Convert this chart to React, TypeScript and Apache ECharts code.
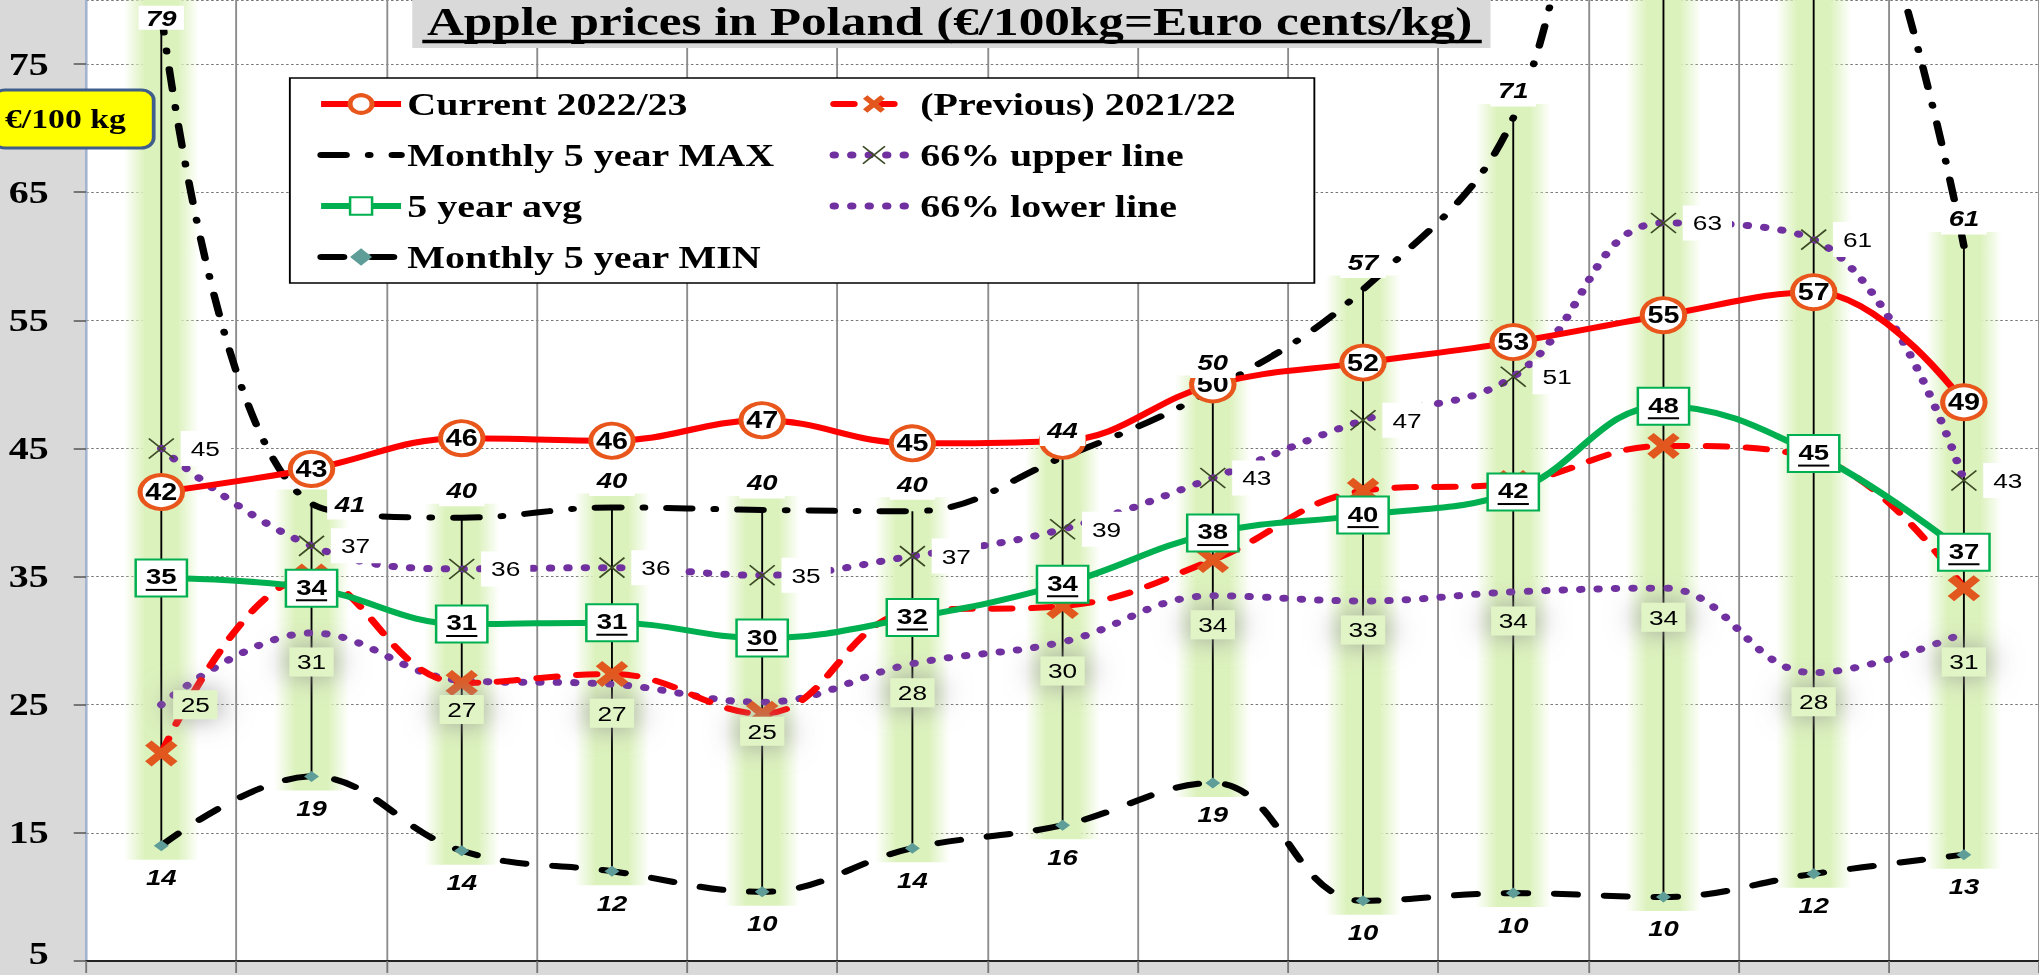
import React, { useEffect, useRef } from 'react';
import * as echarts from 'echarts';

// ---------- data ----------
const months = ['Jul 22', 'Aug 22', 'Sep 22', 'Oct 22', 'Nov 22', 'Dec 22', 'Jan 23', 'Feb 23', 'Mar 23', 'Apr 23', 'May 23', 'Jun 23', 'Jul 23'];
const current = [41.6, 43.4, 45.8, 45.6, 47.2, 45.4, 45.6, 50.0, 51.7, 53.3, 55.4, 57.2, 48.6];
const previous = [21.2, 35.0, 26.7, 27.4, 24.3, 32.3, 32.7, 36.3, 41.7, 42.3, 45.2, 44.3, 34.1];
const fiveYearMax = [79, 40.7, 39.6, 40.4, 40.2, 40.1, 44.3, 49.6, 57.4, 70.8, 110, 100, 60.8];
const upper66 = [45.0, 37.4, 35.6, 35.7, 35.1, 36.6, 38.7, 42.7, 47.2, 50.6, 62.6, 61.3, 42.5];
const avg5 = [34.9, 34.1, 31.3, 31.4, 30.2, 31.8, 34.4, 38.4, 39.8, 41.6, 48.3, 44.6, 36.9];
const lower66 = [25.0, 30.6, 26.9, 26.6, 25.2, 28.2, 29.9, 33.5, 33.1, 33.8, 34.1, 27.5, 30.6];
const fiveYearMin = [14.0, 19.4, 13.6, 12.0, 10.4, 13.8, 15.6, 18.9, 9.7, 10.3, 10.0, 11.8, 13.3];
const yMin = 5;
const yMax = 80;
const yStep = 10;

const TITLE = 'Apple prices in Poland (€/100kg=Euro cents/kg)';
const UNIT = '€/100 kg';
const NAMES = {
  cur: 'Current 2022/23',
  prev: '(Previous) 2021/22',
  max: 'Monthly 5 year MAX',
  up: '66% upper line',
  avg: '5 year avg',
  low: '66% lower line',
  min: 'Monthly 5 year MIN',
};

// ---------- layout ----------
const W = 1632;
const H = 975;
const SX = 2039 / W;
const SANS = '"Liberation Sans", Arial, sans-serif';
const SERIF = '"Liberation Serif", "Times New Roman", serif';
const XPATH = 'path://M0,4L4,0L10,6L16,0L20,4L14,10L20,16L16,20L10,14L4,20L0,16L6,10Z';
const THIN_X = 'path://M0,0L20,20M20,0L0,20';
const DOTS = [0.5, 13.5];

const rnd = (p: any) => String(Math.round(Array.isArray(p.value) ? p.value[1] : p.value));

const labelOnly = (name: string, data: any[], label: any) => ({
  name,
  type: 'line',
  data,
  z: 8,
  silent: true,
  symbol: 'circle',
  symbolSize: 1,
  itemStyle: { color: 'rgba(0,0,0,0)', borderWidth: 0 },
  lineStyle: { width: 0, opacity: 0 },
  emphasis: { disabled: true },
  label: { show: true, ...label },
});

function buildOption(): any {
  const legendText = { fontFamily: SERIF, fontWeight: 'bold', fontSize: 32, color: '#000', lineHeight: 32 };
  const legendBase = {
    orient: 'vertical',
    top: 88,
    padding: 0,
    itemGap: 19,
    itemWidth: 64,
    itemHeight: 22,
    selectedMode: false,
    z: 10,
    textStyle: legendText,
    lineStyle: { width: 'inherit' },
    itemStyle: { borderWidth: 'inherit' },
  };
  return {
    animation: false,
    backgroundColor: '#d9d9d9',
    grid: { left: 69, right: 0, top: 0, bottom: 14, show: true, backgroundColor: '#ffffff', borderWidth: 0 },
    xAxis: {
      type: 'category',
      data: months,
      boundaryGap: true,
      axisLine: { show: true, lineStyle: { color: '#222', width: 2 } },
      axisTick: { show: true, length: 12, lineStyle: { color: '#777', width: 1.5 } },
      axisLabel: { show: false },
      splitLine: { show: true, lineStyle: { color: '#8c8c8c', width: 1.5 } },
    },
    yAxis: {
      type: 'value',
      min: yMin,
      max: yMax,
      interval: yStep,
      axisLine: { show: true, lineStyle: { color: '#a3b4d0', width: 2 } },
      axisTick: { show: true, length: 10, lineStyle: { color: '#555', width: 1.5 } },
      axisLabel: {
        showMaxLabel: false,
        margin: 30,
        fontFamily: SERIF,
        fontWeight: 'bold',
        fontSize: 32,
        color: '#000',
        formatter: (v: number) => (v === yMin ? `{b|${v}}` : String(v)),
        rich: { b: { fontFamily: SERIF, fontWeight: 'bold', fontSize: 32, color: '#000', padding: [0, 0, 16, 0] } },
      },
      splitLine: { show: true, lineStyle: { color: '#777', width: 1, type: [2, 2] } },
    },
    legend: [
      {
        ...legendBase,
        left: 254,
        data: [
          NAMES.cur,
          { name: NAMES.max, itemStyle: { opacity: 0 } },
          NAMES.avg,
          NAMES.min,
        ],
      },
      {
        ...legendBase,
        left: 664,
        data: [NAMES.prev, NAMES.up, { name: NAMES.low, itemStyle: { opacity: 0 } }],
      },
    ],
    graphic: [
      { type: 'rect', z: 5, shape: { x: 232, y: 78, width: 820, height: 205 }, style: { fill: '#fff', stroke: '#000', lineWidth: 1.5 } },
      { type: 'rect', z: 5, shape: { x: 330, y: -4, width: 863, height: 52 }, style: { fill: '#d9d9d9' } },
      {
        type: 'text', z: 6, x: 760, y: 21.5,
        style: { text: TITLE, fontFamily: SERIF, fontWeight: 'bold', fontSize: 41, fill: '#000', align: 'center', verticalAlign: 'middle' },
      },
      { type: 'line', z: 6, shape: { x1: 338, y1: 41.5, x2: 1186, y2: 41.5 }, style: { stroke: '#000', lineWidth: 3.5 } },
      { type: 'rect', z: 6, shape: { x: -6, y: 90, width: 129, height: 58, r: 10 }, style: { fill: '#ffff00', stroke: '#3f5e8c', lineWidth: 3 } },
      {
        type: 'text', z: 7, x: 4, y: 119,
        style: { text: UNIT, fontFamily: SERIF, fontWeight: 'bold', fontSize: 27, fill: '#000', verticalAlign: 'middle' },
      },
    ],
    series: [
      {
        name: 'high-low',
        type: 'custom',
        z: 1,
        silent: true,
        clip: true,
        data: fiveYearMax.map((v, i) => [i, v, fiveYearMin[i]]),
        encode: { x: 0, y: [1, 2] },
        renderItem: (params: any, api: any) => {
          const i = api.value(0);
          const hi = Math.min(api.value(1), yMax);
          const lo = api.value(2);
          const top = api.coord([i, hi]);
          const bot = api.coord([i, lo]);
          const w = 60;
          return {
            type: 'group',
            children: [
              {
                type: 'rect',
                shape: { x: top[0] - w / 2, y: top[1] - 14, width: w, height: bot[1] - top[1] + 28 },
                style: {
                  fill: new echarts.graphic.LinearGradient(0, 0, 1, 0, [
                    { offset: 0, color: 'rgba(220,242,189,0)' },
                    { offset: 0.28, color: 'rgba(220,242,189,1)' },
                    { offset: 0.72, color: 'rgba(220,242,189,1)' },
                    { offset: 1, color: 'rgba(220,242,189,0)' },
                  ]),
                },
              },
              {
                type: 'line',
                shape: { x1: top[0], y1: top[1], x2: bot[0], y2: bot[1] },
                style: { stroke: '#000', lineWidth: 1.5 },
              },
            ],
          };
        },
      },
      {
        name: NAMES.low,
        type: 'line',
        data: lower66,
        smooth: 0.4,
        z: 2,
        symbol: 'none',
        lineStyle: { color: '#7030a0', width: 7, type: DOTS, cap: 'round' },
        itemStyle: { color: '#7030a0' },
      },
      {
        name: NAMES.max,
        type: 'line',
        data: fiveYearMax,
        smooth: 0.4,
        z: 2,
        symbol: 'none',
        lineStyle: { color: '#000', width: 6, type: [20, 18, 1, 18], cap: 'round' },
        itemStyle: { color: '#000' },
      },
      {
        name: NAMES.min,
        type: 'line',
        data: fiveYearMin,
        smooth: 0.4,
        z: 2,
        symbol: 'diamond',
        symbolSize: [12, 11],
        lineStyle: { color: '#000', width: 6, type: [18, 22], cap: 'round' },
        itemStyle: { color: '#5f9e98' },
      },
      {
        name: NAMES.up,
        type: 'line',
        data: upper66,
        smooth: 0.4,
        z: 3,
        symbol: THIN_X,
        symbolSize: 20,
        lineStyle: { color: '#7030a0', width: 7, type: DOTS, cap: 'round' },
        itemStyle: { color: 'rgba(0,0,0,0)', borderColor: '#3b4a24', borderWidth: 1.5 },
      },
      {
        name: NAMES.prev,
        type: 'line',
        data: previous,
        smooth: 0.4,
        z: 4,
        symbol: XPATH,
        symbolSize: 26,
        lineStyle: { color: '#ff0000', width: 6, type: [16, 16], cap: 'round' },
        itemStyle: { color: '#e2571e' },
      },
      {
        name: NAMES.avg,
        type: 'line',
        data: avg5,
        smooth: 0.4,
        z: 5,
        symbol: 'rect',
        symbolSize: 16,
        lineStyle: { color: '#00b050', width: 6 },
        itemStyle: { color: '#fff', borderColor: '#00b050', borderWidth: 2 },
        label: {
          show: true,
          position: 'inside',
          formatter: (p: any) => `{v|${rnd(p)}}\n{u| }`,
          backgroundColor: '#fff',
          borderColor: '#00b050',
          borderWidth: 2,
          padding: [4, 7, 4, 7],
          rich: {
            v: { fontFamily: SANS, fontWeight: 'bold', fontSize: 22, lineHeight: 24, color: '#000', align: 'center' },
            u: { width: 25, height: 2, lineHeight: 3, fontSize: 2, backgroundColor: '#000', align: 'center' },
          },
        },
      },
      {
        name: NAMES.cur,
        type: 'line',
        data: current.map((v, i) => (i === 6 ? { value: v, label: { show: false } } : v)),
        smooth: 0.4,
        z: 6,
        symbol: 'circle',
        symbolSize: 34,
        lineStyle: { color: '#ff0000', width: 6 },
        itemStyle: { color: '#fff', borderColor: '#e8561c', borderWidth: 4 },
        label: { show: true, position: 'inside', formatter: rnd, fontFamily: SANS, fontWeight: 'bold', fontSize: 23, color: '#000' },
      },
      labelOnly(
        'max-labels',
        fiveYearMax.map((v, i) => {
          if (v > yMax) return { value: v, label: { show: false } };
          if (i === 0) return { value: v, label: { position: 'inside', offset: [0, 5], padding: [1, 6] } };
          if (i === 1) return { value: v, label: { position: 'right', distance: 12 } };
          return v;
        }),
        {
          position: 'top', distance: 11, formatter: rnd, fontFamily: SANS, fontWeight: 'bold', fontStyle: 'italic',
          fontSize: 22, color: '#000', backgroundColor: '#fff', padding: [5, 6],
        },
      ),
      labelOnly('min-labels', fiveYearMin, {
        position: 'bottom', distance: 20, formatter: rnd, fontFamily: SANS, fontWeight: 'bold', fontStyle: 'italic',
        fontSize: 22, color: '#000',
      }),
      labelOnly('upper-labels', upper66, {
        position: 'right', distance: 15, formatter: rnd, fontFamily: SANS, fontSize: 21, color: '#000',
        backgroundColor: '#fff', padding: [7, 8],
      }),
      labelOnly(
        'lower-labels',
        lower66.map((v, i) => (i === 0 ? { value: v, label: { position: 'right', distance: 9 } } : v)),
        {
          position: 'bottom', distance: 14, formatter: rnd, fontFamily: SANS, fontSize: 21, color: '#000',
          backgroundColor: '#e0f4c6', padding: [4, 6], shadowColor: 'rgba(150,150,150,0.95)', shadowBlur: 26,
        },
      ),
    ],
  };
}

export default function App() {
  const ref = useRef<HTMLDivElement>(null);
  useEffect(() => {
    if (!ref.current) return;
    const chart = echarts.init(ref.current, null, { renderer: 'svg' });
    chart.setOption(buildOption());
    return () => chart.dispose();
  }, []);
  return (
    <div
      ref={ref}
      style={{
        position: 'fixed',
        left: 0,
        top: 0,
        width: W,
        height: H,
        transform: `scaleX(${SX})`,
        transformOrigin: '0 0',
      }}
    />
  );
}
